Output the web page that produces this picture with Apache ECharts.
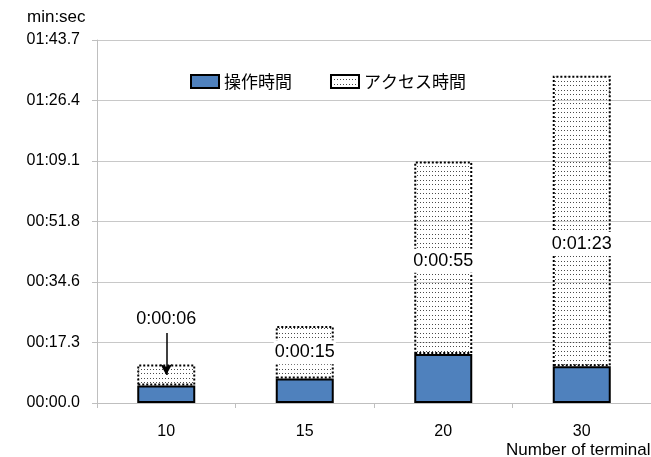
<!DOCTYPE html>
<html>
<head>
<meta charset="utf-8">
<script src="https://cdn.jsdelivr.net/npm/echarts@6/dist/echarts.min.js"></script>
<style>
  html, body { margin: 0; padding: 0; background: #fff; }
  #chart { width: 651px; height: 457px; }
</style>
</head>
<body>
<div id="chart"></div>
<script>
// Terminals tested, and time per run in seconds
const categories = ['10', '15', '20', '30'];
const operationSec = [5, 7, 14, 10.5];   // 操作時間
const accessSec = [6, 15, 55, 83];       // アクセス時間
const seriesNames = ['操作時間', 'アクセス時間'];
// Axis steps: 0.0002 day = 17.28 s
const yStep = 17.28;
const yMax = 103.68;
// Arrow pointing at the first access segment (seconds)
const arrowFrom = 20;
const arrowTo = 8;

const pad = n => String(n).padStart(2, '0');
function tickLabel(v) {
  const t = Math.round(v * 10) / 10;
  const m = Math.floor(t / 60);
  const s = t - m * 60;
  return pad(m) + ':' + (s < 10 ? '0' : '') + s.toFixed(1);
}
function hms(v) {
  const t = Math.round(v);
  const h = Math.floor(t / 3600);
  const m = Math.floor((t % 3600) / 60);
  const s = t % 60;
  return h + ':' + pad(m) + ':' + pad(s);
}

// Dotted fill for the access-time bars
const tile = document.createElement('canvas');
tile.width = 3; tile.height = 9;
const tctx = tile.getContext('2d');
tctx.fillStyle = '#4a4a4a';
tctx.fillRect(0, 0, 1, 1);
tctx.fillRect(0, 4, 1, 1);

const latin = '"Liberation Sans", Arial, sans-serif';
const cjk = '"Noto Sans CJK JP", "Liberation Sans", sans-serif';

// Where each access label sits relative to its bar
const labelPlacement = [
  { position: 'top', distance: 33 },
  { position: 'inside', offset: [0, 0] },
  { position: 'inside', offset: [0, 3] },
  { position: 'inside', offset: [0, 23] }
];

const chart = echarts.init(document.getElementById('chart'), null, { renderer: 'canvas' });

chart.setOption({
  animation: false,
  backgroundColor: '#fff',
  title: [
    { text: 'min:sec', left: 22, top: 4,
      textStyle: { fontFamily: latin, fontSize: 17, fontWeight: 'normal', color: '#000' } },
    { text: 'Number of terminal', left: 501, top: 437,
      textStyle: { fontFamily: latin, fontSize: 17, fontWeight: 'normal', color: '#000' } }
  ],
  legend: {
    data: seriesNames,
    icon: 'rect',
    left: 185, top: 68,
    itemWidth: 28, itemHeight: 13, itemGap: 38,
    textStyle: { fontFamily: cjk, fontSize: 17, color: '#000', padding: [0, 0, 0, 0] }
  },
  grid: { left: 97, top: 40, width: 561, height: 363, containLabel: false },
  xAxis: {
    type: 'category',
    data: categories,
    axisLine: { lineStyle: { color: '#bfbfbf', width: 1 } },
    axisTick: { show: true, length: 5, lineStyle: { color: '#bfbfbf' } },
    axisLabel: { fontFamily: latin, fontSize: 16, color: '#000', margin: 21 }
  },
  yAxis: {
    type: 'value',
    min: 0, max: yMax, interval: yStep,
    axisLine: { show: true, lineStyle: { color: '#bfbfbf', width: 1 } },
    axisTick: { show: true, length: 5, lineStyle: { color: '#bfbfbf' } },
    splitLine: { lineStyle: { color: '#c8c8c8', width: 1 } },
    axisLabel: { fontFamily: latin, fontSize: 16, color: '#000', margin: 17, formatter: tickLabel }
  },
  series: [
    {
      name: seriesNames[0],
      type: 'bar',
      stack: 'time',
      barWidth: 58,
      data: operationSec,
      itemStyle: { color: '#4f81bd', borderColor: '#000', borderWidth: 2 }
    },
    {
      name: seriesNames[1],
      type: 'bar',
      stack: 'time',
      barWidth: 58,
      data: accessSec.map((v, i) => ({
        value: v,
        label: Object.assign({}, labelPlacement[i])
      })),
      itemStyle: {
        color: { image: tile, repeat: 'repeat' },
        borderColor: '#000', borderWidth: 2, borderType: 'dotted'
      },
      label: {
        show: true,
        formatter: p => hms(p.value),
        fontFamily: latin, fontSize: 18, color: '#000',
        backgroundColor: '#fff', padding: [3, 1]
      },
      markLine: {
        silent: true,
        symbol: ['none', 'arrow'],
        symbolSize: [9, 11],
        label: { show: false },
        lineStyle: { color: '#000', width: 1.5, type: 'solid' },
        data: [[{ coord: [categories[0], arrowFrom] }, { coord: [categories[0], arrowTo] }]]
      }
    }
  ]
});
</script>
</body>
</html>
